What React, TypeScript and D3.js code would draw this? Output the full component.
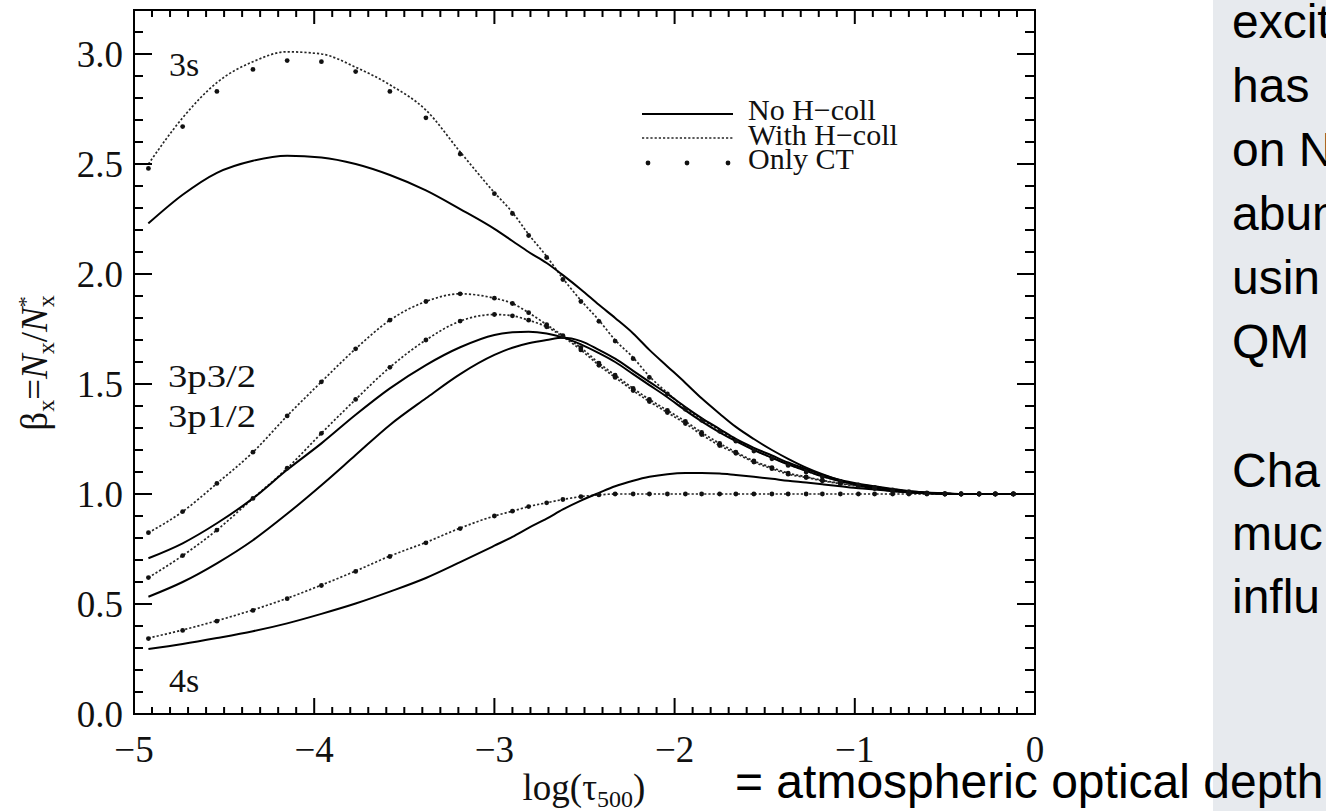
import React from "react";
import * as d3 from "d3";

// Depth grid (log tau_500)
const logTau = [
  -4.92, -4.73, -4.54, -4.34, -4.15, -3.96, -3.77, -3.58, -3.38, -3.19,
  -3.0, -2.9, -2.81, -2.71, -2.62, -2.52, -2.42, -2.33, -2.23, -2.14,
  -2.04, -1.94, -1.85, -1.75, -1.66, -1.56, -1.46, -1.37, -1.27, -1.18,
  -1.08, -0.98, -0.89, -0.79, -0.7, -0.6, -0.5, -0.41, -0.31, -0.22,
  -0.12, 0.0,
];

// 3s
const s3NoH = [
  2.23, 2.36, 2.46, 2.515, 2.538, 2.53, 2.5, 2.45, 2.38, 2.295,
  2.205, 2.15, 2.1, 2.05, 1.995, 1.93, 1.86, 1.8, 1.73, 1.655,
  1.58, 1.505, 1.435, 1.365, 1.305, 1.25, 1.2, 1.16, 1.12, 1.09,
  1.062, 1.04, 1.025, 1.015, 1.01, 1.005, 1.002, 1.0, 1.0, 1.0,
  1.0, 1.0,
];
const s3WithH = [
  2.5, 2.71, 2.87, 2.965, 3.01, 3.0, 2.94, 2.86, 2.745, 2.555,
  2.37, 2.28, 2.18, 2.08, 1.98, 1.88, 1.79, 1.7, 1.62, 1.535,
  1.46, 1.39, 1.34, 1.29, 1.245, 1.2, 1.165, 1.135, 1.105, 1.08,
  1.06, 1.043, 1.032, 1.02, 1.012, 1.005, 1.002, 1.0, 1.0, 1.0,
  1.0, 1.0,
];
const s3OnlyCT = [
  2.48, 2.67, 2.83, 2.93, 2.97, 2.965, 2.92, 2.83, 2.71, 2.545,
  2.365, 2.275, 2.175, 2.075, 1.975, 1.875, 1.785, 1.695, 1.615, 1.53,
  1.455, 1.385, 1.335, 1.285, 1.24, 1.195, 1.16, 1.13, 1.1, 1.077,
  1.057, 1.041, 1.03, 1.019, 1.011, 1.005, 1.002, 1.0, 1.0, 1.0,
  1.0, 1.0,
];

// 3p3/2
const p32NoH = [
  0.708, 0.776, 0.867, 0.98, 1.11, 1.23, 1.36, 1.48, 1.586, 1.667,
  1.723, 1.735, 1.738, 1.73, 1.712, 1.68, 1.64, 1.6, 1.545, 1.495,
  1.44, 1.38, 1.33, 1.28, 1.24, 1.2, 1.165, 1.135, 1.105, 1.08,
  1.058, 1.043, 1.032, 1.021, 1.012, 1.006, 1.002, 1.0, 1.0, 1.0,
  1.0, 1.0,
];
const p32WithH = [
  0.824, 0.92, 1.048, 1.19, 1.355, 1.51, 1.66, 1.79, 1.875, 1.91,
  1.89, 1.866, 1.824, 1.77, 1.72, 1.665, 1.595, 1.54, 1.48, 1.43,
  1.38, 1.33, 1.28, 1.23, 1.19, 1.15, 1.12, 1.095, 1.078, 1.062,
  1.049, 1.037, 1.027, 1.015, 1.007, 1.003, 1.0, 1.0, 1.0, 1.0,
  1.0, 1.0,
];
const p32OnlyCT = [
  0.824, 0.92, 1.048, 1.19, 1.355, 1.51, 1.66, 1.79, 1.875, 1.91,
  1.89, 1.866, 1.824, 1.77, 1.72, 1.665, 1.595, 1.54, 1.48, 1.43,
  1.38, 1.33, 1.28, 1.23, 1.19, 1.15, 1.12, 1.095, 1.078, 1.062,
  1.049, 1.037, 1.027, 1.015, 1.007, 1.003, 1.0, 1.0, 1.0, 1.0,
  1.0, 1.0,
];

// 3p1/2
const p12NoH = [
  0.533, 0.6, 0.685, 0.79, 0.91, 1.04, 1.177, 1.314, 1.435, 1.545,
  1.632, 1.665, 1.685, 1.7, 1.71, 1.695, 1.655, 1.615, 1.56, 1.51,
  1.455, 1.395, 1.345, 1.295, 1.25, 1.21, 1.175, 1.143, 1.113, 1.087,
  1.064, 1.047, 1.035, 1.023, 1.013, 1.007, 1.003, 1.0, 1.0, 1.0,
  1.0, 1.0,
];
const p12WithH = [
  0.62, 0.72, 0.836, 0.98, 1.117, 1.276, 1.43, 1.576, 1.7, 1.786,
  1.816, 1.81, 1.79, 1.76, 1.715, 1.655, 1.585, 1.53, 1.47, 1.42,
  1.37, 1.32, 1.27, 1.22, 1.185, 1.145, 1.115, 1.09, 1.075, 1.06,
  1.047, 1.035, 1.025, 1.013, 1.006, 1.002, 1.0, 1.0, 1.0, 1.0,
  1.0, 1.0,
];
const p12OnlyCT = [
  0.62, 0.72, 0.836, 0.98, 1.117, 1.276, 1.43, 1.576, 1.7, 1.786,
  1.816, 1.81, 1.79, 1.76, 1.715, 1.655, 1.585, 1.53, 1.47, 1.42,
  1.37, 1.32, 1.27, 1.22, 1.185, 1.145, 1.115, 1.09, 1.075, 1.06,
  1.047, 1.035, 1.025, 1.013, 1.006, 1.002, 1.0, 1.0, 1.0, 1.0,
  1.0, 1.0,
];

// 4s
const s4NoH = [
  0.295, 0.318, 0.345, 0.376, 0.412, 0.455, 0.502, 0.556, 0.618, 0.69,
  0.765, 0.805, 0.846, 0.888, 0.93, 0.97, 1.005, 1.035, 1.06, 1.078,
  1.09, 1.095, 1.095, 1.093, 1.086, 1.078, 1.069, 1.06, 1.052, 1.044,
  1.035, 1.026, 1.02, 1.013, 1.007, 1.003, 1.001, 1.0, 1.0, 1.0,
  1.0, 1.0,
];
const s4WithH = [
  0.345, 0.382, 0.424, 0.473, 0.526, 0.586, 0.65, 0.718, 0.78, 0.845,
  0.9, 0.922, 0.943, 0.96, 0.975, 0.988, 0.996, 1.0, 1.0, 1.0,
  1.0, 1.0, 1.0, 1.0, 1.0, 1.0, 1.0, 1.0, 1.0, 1.0,
  1.0, 1.0, 1.0, 1.0, 1.0, 1.0, 1.0, 1.0, 1.0, 1.0,
  1.0, 1.0,
];
const s4OnlyCT = [
  0.343, 0.38, 0.422, 0.471, 0.524, 0.584, 0.648, 0.716, 0.778, 0.843,
  0.9, 0.922, 0.943, 0.96, 0.975, 0.988, 0.996, 1.0, 1.0, 1.0,
  1.0, 1.0, 1.0, 1.0, 1.0, 1.0, 1.0, 1.0, 1.0, 1.0,
  1.0, 1.0, 1.0, 1.0, 1.0, 1.0, 1.0, 1.0, 1.0, 1.0,
  1.0, 1.0,
];

const noHSeries = [s3NoH, p32NoH, p12NoH, s4NoH];
const withHSeries = [s3WithH, p32WithH, p12WithH, s4WithH];
const onlyCTSeries = [s3OnlyCT, p32OnlyCT, p12OnlyCT, s4OnlyCT];

const xTicks = [-5, -4, -3, -2, -1, 0];
const xTickLabels = ["\u22125", "\u22124", "\u22123", "\u22122", "\u22121", "0"];
const yTicks = [0, 0.5, 1, 1.5, 2, 2.5, 3];
const yTickLabels = ["0.0", "0.5", "1.0", "1.5", "2.0", "2.5", "3.0"];
const legendLabels = ["No H\u2212coll", "With H\u2212coll", "Only CT"];
const levelLabels = ["3s", "3p3/2", "3p1/2", "4s"];
const panelLines1 = ["excit", "has", "on N", "abun", "usin", "QM"];
const panelLines2 = ["Cha", "muc", "influ"];
const bottomNote = "= atmospheric optical depth";

const W = 1326;
const H = 811;
const L = 134;
const R = 1035;
const T = 10;
const B = 714;

const serif = "'Liberation Serif', 'Times New Roman', serif";
const sans = "'Liberation Sans', Arial, sans-serif";

export default function App() {
  const x = d3.scaleLinear().domain([-5, 0]).range([L, R]);
  const y = d3.scaleLinear().domain([0, 3.2]).range([B, T]);
  const line = d3
    .line<[number, number]>()
    .x((d) => x(d[0]))
    .y((d) => y(d[1]))
    .curve(d3.curveMonotoneX);
  const pts = (vals: number[]) => logTau.map((t, i) => [t, vals[i]] as [number, number]);

  const xMinor = d3.range(-50, 1).map((v) => v / 10).filter((v) => Math.abs(v - Math.round(v)) > 1e-6);
  const yMinor = d3.range(0, 33).map((v) => v / 10).filter((v) => Math.abs(v * 2 - Math.round(v * 2)) > 1e-6);

  const axisStroke = { stroke: "#000", strokeWidth: 2 };
  const dotted = { stroke: "#262626", strokeWidth: 1.7, strokeDasharray: "2.2 2" };

  return (
    <svg
      width={W}
      height={H}
      viewBox={`0 0 ${W} ${H}`}
      style={{ position: "absolute", left: 0, top: 0, background: "#fff" }}
    >
      <rect x={0} y={0} width={W} height={H} fill="#fff" />
      {/* right grey panel */}
      <rect x={1213} y={0} width={W - 1213} height={H} fill="#e7eaee" />
      <g fontFamily={sans} fontSize={48} fill="#000">
        {panelLines1.map((s, i) => (
          <text key={s} x={1232} y={38 + i * 64}>
            {s}
          </text>
        ))}
        {panelLines2.map((s, i) => (
          <text key={s} x={1232} y={487 + i * 63}>
            {s}
          </text>
        ))}
        <text x={735} y={798}>
          {bottomNote}
        </text>
      </g>

      {/* curves */}
      <g fill="none">
        {withHSeries.map((s, i) => (
          <path key={"h" + i} d={line(pts(s)) || ""} {...dotted} />
        ))}
        {noHSeries.map((s, i) => (
          <path key={"n" + i} d={line(pts(s)) || ""} stroke="#000" strokeWidth={2} />
        ))}
      </g>
      <g fill="#111">
        {onlyCTSeries.map((s, i) =>
          pts(s)
            .filter((d) => d[0] < -0.01)
            .map((d, j) => <circle key={i + "-" + j} cx={x(d[0])} cy={y(d[1])} r={2.4} />)
        )}
      </g>

      {/* frame */}
      <rect x={L} y={T} width={R - L} height={B - T} fill="none" {...axisStroke} />
      {/* ticks */}
      <g {...axisStroke}>
        {xTicks.map((v) => (
          <g key={"xt" + v}>
            <line x1={x(v)} x2={x(v)} y1={B} y2={B - 16} />
            <line x1={x(v)} x2={x(v)} y1={T} y2={T + 14} />
          </g>
        ))}
        {xMinor.map((v) => (
          <g key={"xm" + v}>
            <line x1={x(v)} x2={x(v)} y1={B} y2={B - 7} />
            <line x1={x(v)} x2={x(v)} y1={T} y2={T + 7} />
          </g>
        ))}
        {yTicks.map((v) => (
          <g key={"yt" + v}>
            <line x1={L} x2={L + 18} y1={y(v)} y2={y(v)} />
            <line x1={R} x2={R - 18} y1={y(v)} y2={y(v)} />
          </g>
        ))}
        {yMinor.map((v) => (
          <g key={"ym" + v}>
            <line x1={L} x2={L + 9} y1={y(v)} y2={y(v)} />
            <line x1={R} x2={R - 10} y1={y(v)} y2={y(v)} />
          </g>
        ))}
      </g>

      {/* tick labels */}
      <g fontFamily={serif} fontSize={37} fill="#111">
        {xTicks.map((v, i) => (
          <text key={"xl" + v} x={x(v)} y={762} textAnchor="middle">
            {xTickLabels[i]}
          </text>
        ))}
        {yTicks.map((v, i) => (
          <text key={"yl" + v} x={123} y={y(v) + 13} textAnchor="end">
            {yTickLabels[i]}
          </text>
        ))}
      </g>

      {/* axis titles */}
      <text x={584} y={800} textAnchor="middle" fontFamily={serif} fontSize={37} fill="#111">
        log(τ
        <tspan fontSize={24} dy={7}>
          500
        </tspan>
        <tspan dy={-7}>)</tspan>
      </text>
      <text
        transform="translate(47,363) rotate(-90)"
        textAnchor="middle"
        fontFamily={serif}
        fontSize={37}
        fill="#111"
      >
        β
        <tspan fontSize={24} dy={7}>x</tspan>
        <tspan dy={-7}>=</tspan>
        <tspan fontStyle="italic">N</tspan>
        <tspan fontSize={24} dy={7}>x</tspan>
        <tspan dy={-7}>/</tspan>
        <tspan fontStyle="italic">N</tspan>
        <tspan fontSize={22} dy={-14}>*</tspan>
        <tspan fontSize={24} dx={-11} dy={21}>x</tspan>
      </text>

      {/* level labels */}
      <g fontFamily={serif} fill="#111">
        <text x={169} y={76} fontSize={34}>
          {levelLabels[0]}
        </text>
        <text x={168} y={387} fontSize={32} textLength={88} lengthAdjust="spacingAndGlyphs">
          {levelLabels[1]}
        </text>
        <text x={168} y={427} fontSize={32} textLength={88} lengthAdjust="spacingAndGlyphs">
          {levelLabels[2]}
        </text>
        <text x={169} y={692} fontSize={34}>
          {levelLabels[3]}
        </text>
      </g>

      {/* legend */}
      <g>
        <line x1={642} x2={733} y1={114} y2={114} stroke="#000" strokeWidth={2} />
        <line x1={642} x2={733} y1={138} y2={138} {...dotted} />
        {[648, 687, 728].map((cx) => (
          <circle key={cx} cx={cx} cy={163} r={2.4} fill="#111" />
        ))}
        <g fontFamily={serif} fontSize={30} fill="#111">
          {legendLabels.map((s, i) => (
            <text key={s} x={748} y={120 + i * 24.5}>
              {s}
            </text>
          ))}
        </g>
      </g>
    </svg>
  );
}
